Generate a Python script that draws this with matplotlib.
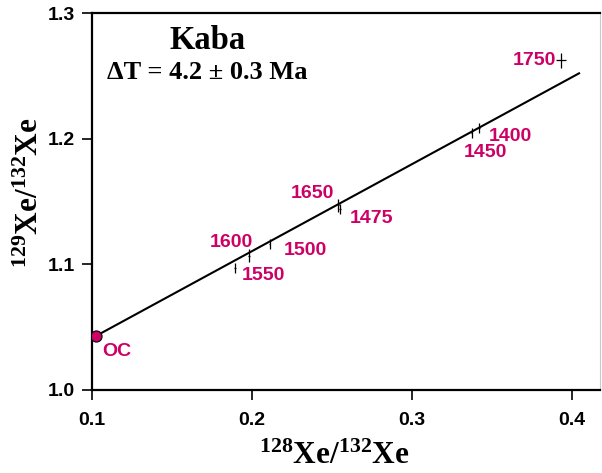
import numpy as np
import matplotlib.pyplot as plt

plt.rcParams['font.family'] = 'Liberation Sans'
plt.rcParams['mathtext.fontset'] = 'custom'
plt.rcParams['mathtext.rm'] = 'Liberation Serif:bold'
plt.rcParams['mathtext.it'] = 'Liberation Serif:bold'
plt.rcParams['mathtext.bf'] = 'Liberation Serif:bold'

# step temperatures (C) and isotope ratios
steps = ['1550', '1600', '1500', '1650', '1475', '1450', '1400', '1750']
x128 = [0.1894, 0.198, 0.211, 0.254, 0.255, 0.3373, 0.342, 0.393]
y129 = [1.097, 1.107, 1.116, 1.147, 1.144, 1.2047, 1.2087, 1.2625]
xerr = [0.0005, 0.0005, 0.0005, 0.0005, 0.0005, 0.0005, 0.0005, 0.003]
yerr = [0.004, 0.005, 0.004, 0.005, 0.004, 0.004, 0.004, 0.006]

oc_x, oc_y = 0.1025, 1.043
fit_x = [0.1025, 0.4044]
fit_y = [1.043, 1.252]

label_pos = {
    '1550': (0.2069, 1.0915), '1600': (0.1869, 1.1177), '1500': (0.2334, 1.1108),
    '1650': (0.2380, 1.1560), '1475': (0.2744, 1.1368), '1450': (0.3460, 1.1888),
    '1400': (0.3613, 1.2020), '1750': (0.3763, 1.2625),
}

mag = '#CC0066'

fig = plt.figure(figsize=(6.02, 4.73), dpi=100)
ax = fig.add_axes([0.1528, 0.1755, 0.8439, 0.797])

ax.plot(fit_x, fit_y, color='black', lw=1.5, zorder=2)
ax.errorbar(x128, y129, xerr=xerr, yerr=yerr, fmt='none', ecolor='black',
            elinewidth=0.9, capsize=0, zorder=3)
ax.plot(oc_x, oc_y, 'o', ms=8, mfc=mag, mec='black', mew=0.8, zorder=4)

for s in steps:
    ax.text(*label_pos[s], s, color=mag, fontsize=14, fontweight='bold',
            ha='center', va='center')
ax.text(0.1156, 1.031, 'OC', color=mag, fontsize=14, fontweight='bold',
        ha='center', va='center')

ax.text(0.172, 1.2785, 'Kaba', fontsize=23.5, fontweight='bold',
        family='Liberation Serif', ha='center', va='center')
ax.text(0.172, 1.253, '\u0394T = 4.2 \u00b1 0.3 Ma', fontsize=19, fontweight='bold',
        family='Liberation Serif', ha='center', va='center')

ax.set_xlim(0.1, 0.4175)
ax.set_ylim(1.0, 1.3)
ax.set_xticks([0.1, 0.2, 0.3, 0.4])
ax.set_yticks([1.0, 1.1, 1.2, 1.3])
ax.set_xticklabels(['0.1', '0.2', '0.3', '0.4'])
ax.set_yticklabels(['1.0', '1.1', '1.2', '1.3'])
for lab in ax.get_xticklabels() + ax.get_yticklabels():
    lab.set_fontweight('bold')
    lab.set_fontsize(14)
ax.tick_params(direction='out', length=7, width=1.2, pad=5)
ax.tick_params(axis='x', pad=9)

for sp in ax.spines.values():
    sp.set_linewidth(1.6)
ax.spines['right'].set_linewidth(0.8)
ax.spines['right'].set_color('#c8c8c8')

ax.set_xlabel(r'$^{128}\mathrm{Xe}/^{132}\mathrm{Xe}$', fontsize=22.5)
ax.set_ylabel(r'$^{129}\mathrm{Xe}/^{132}\mathrm{Xe}$', fontsize=22.5)
ax.xaxis.set_label_coords(0.476, -0.135)
ax.yaxis.set_label_coords(-0.092, 0.5225)

fig.savefig('out.png', dpi=100)
